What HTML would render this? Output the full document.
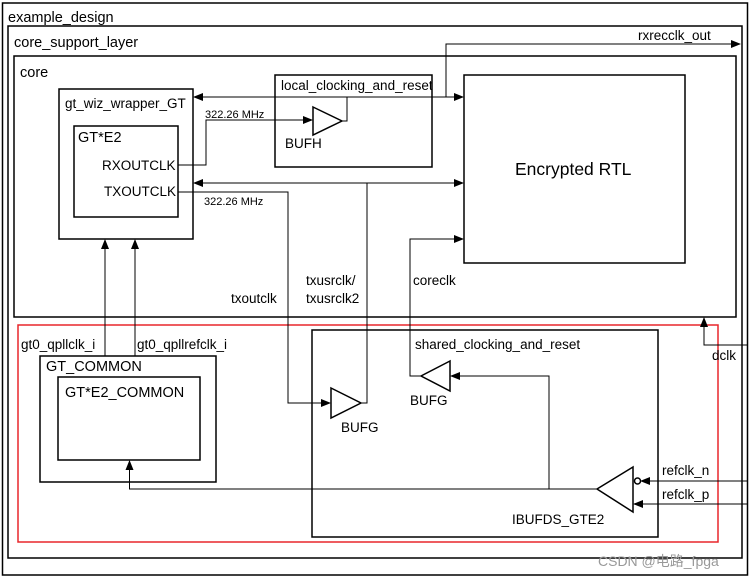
<!DOCTYPE html>
<html><head><meta charset="utf-8"><style>
body{margin:0;background:#fff;width:751px;height:578px;overflow:hidden}
text{font-family:"Liberation Sans","Noto Sans CJK SC",sans-serif;fill:#000}
</style></head><body>
<svg width="751" height="578" viewBox="0 0 751 578" xmlns="http://www.w3.org/2000/svg">
<defs><marker id="a" markerWidth="10" markerHeight="8" refX="9" refY="4" orient="auto" markerUnits="userSpaceOnUse"><path d="M0,0 L10,4 L0,8z" fill="#000"/></marker></defs>
<g fill="none" stroke="#000" stroke-width="1.5">
<rect x="2.5" y="3" width="745" height="572"/>
<rect x="8" y="26" width="734" height="532"/>
<rect x="14" y="56" width="722" height="261"/>
<rect x="59" y="89" width="134" height="150"/>
<rect x="74" y="126" width="104" height="91"/>
<rect x="275" y="75" width="157" height="92"/>
<rect x="464" y="75" width="221" height="188"/>
<rect x="312" y="330" width="346" height="207"/>
<rect x="40" y="356" width="176" height="126"/>
<rect x="58" y="377" width="142" height="83"/>
<path d="M313,107 L342,121 L313,135Z"/>
<path d="M331,388 L361,403 L331,418Z"/>
<path d="M450,361 L421,376 L450,391Z"/>
<path d="M633,467 L597,489 L633,512Z"/>
<circle cx="637.5" cy="481" r="3"/>
</g>
<rect x="18" y="325" width="700" height="217" fill="none" stroke="#e8262b" stroke-width="1.5"/>
<g fill="none" stroke="#000" stroke-width="1">
<line x1="200" y1="97" x2="463" y2="97" marker-end="url(#a)"/>
<line x1="463" y1="97" x2="194" y2="97" marker-end="url(#a)"/>
<polyline points="342,121 347,121 347,97"/>
<polyline points="446,97 446,44 740,44" marker-end="url(#a)"/>
<polyline points="178,165 206,165 206,120 312,120" marker-end="url(#a)"/>
<line x1="200" y1="183" x2="463" y2="183" marker-end="url(#a)"/>
<line x1="463" y1="183" x2="194" y2="183" marker-end="url(#a)"/>
<polyline points="178,192 288,192 288,403 330,403" marker-end="url(#a)"/>
<polyline points="361,403 367,403 367,183"/>
<polyline points="421,376 410,376 410,239 463,239" marker-end="url(#a)"/>
<line x1="105" y1="356" x2="105" y2="240" marker-end="url(#a)"/>
<line x1="135" y1="356" x2="135" y2="240" marker-end="url(#a)"/>
<polyline points="549,489 549,376 451,376" marker-end="url(#a)"/>
<polyline points="597,489 129.5,489 129.5,461" marker-end="url(#a)"/>
<line x1="748" y1="481" x2="641" y2="481" marker-end="url(#a)"/>
<line x1="748" y1="504" x2="634" y2="504" marker-end="url(#a)"/>
<polyline points="748,345 704,345 704,318" marker-end="url(#a)"/>
</g>
<g font-size="14.5">
<text x="8" y="22">example_design</text>
<text x="14" y="47">core_support_layer</text>
<text x="20" y="77">core</text>
</g>
<g font-size="13.5">
<text x="65" y="108">gt_wiz_wrapper_GT</text>
<text x="78" y="142" font-size="14.5">GT*E2</text>
<text x="102" y="170">RXOUTCLK</text>
<text x="104" y="196">TXOUTCLK</text>
<text x="281" y="90">local_clocking_and_reset</text>
<text x="285" y="148">BUFH</text>
<text x="638" y="40">rxrecclk_out</text>
<text x="231" y="303">txoutclk</text>
<text x="306" y="285">txusrclk/</text>
<text x="306" y="303">txusrclk2</text>
<text x="413" y="285">coreclk</text>
<text x="21" y="349">gt0_qpllclk_i</text>
<text x="137" y="349">gt0_qpllrefclk_i</text>
<text x="46" y="371" font-size="14.5">GT_COMMON</text>
<text x="65" y="397" font-size="14.5">GT*E2_COMMON</text>
<text x="415" y="349">shared_clocking_and_reset</text>
<text x="341" y="432">BUFG</text>
<text x="410" y="405">BUFG</text>
<text x="662" y="475">refclk_n</text>
<text x="662" y="499">refclk_p</text>
<text x="512" y="524">IBUFDS_GTE2</text>
<text x="712" y="360">dclk</text>
</g>
<g font-size="11"><text x="205" y="118">322.26 MHz</text><text x="204" y="205">322.26 MHz</text></g>
<text x="515" y="175" font-size="17.5">Encrypted RTL</text>
<text x="598" y="566" font-size="14" style="fill:#999">CSDN @电路_fpga</text>
</svg>
</body></html>
